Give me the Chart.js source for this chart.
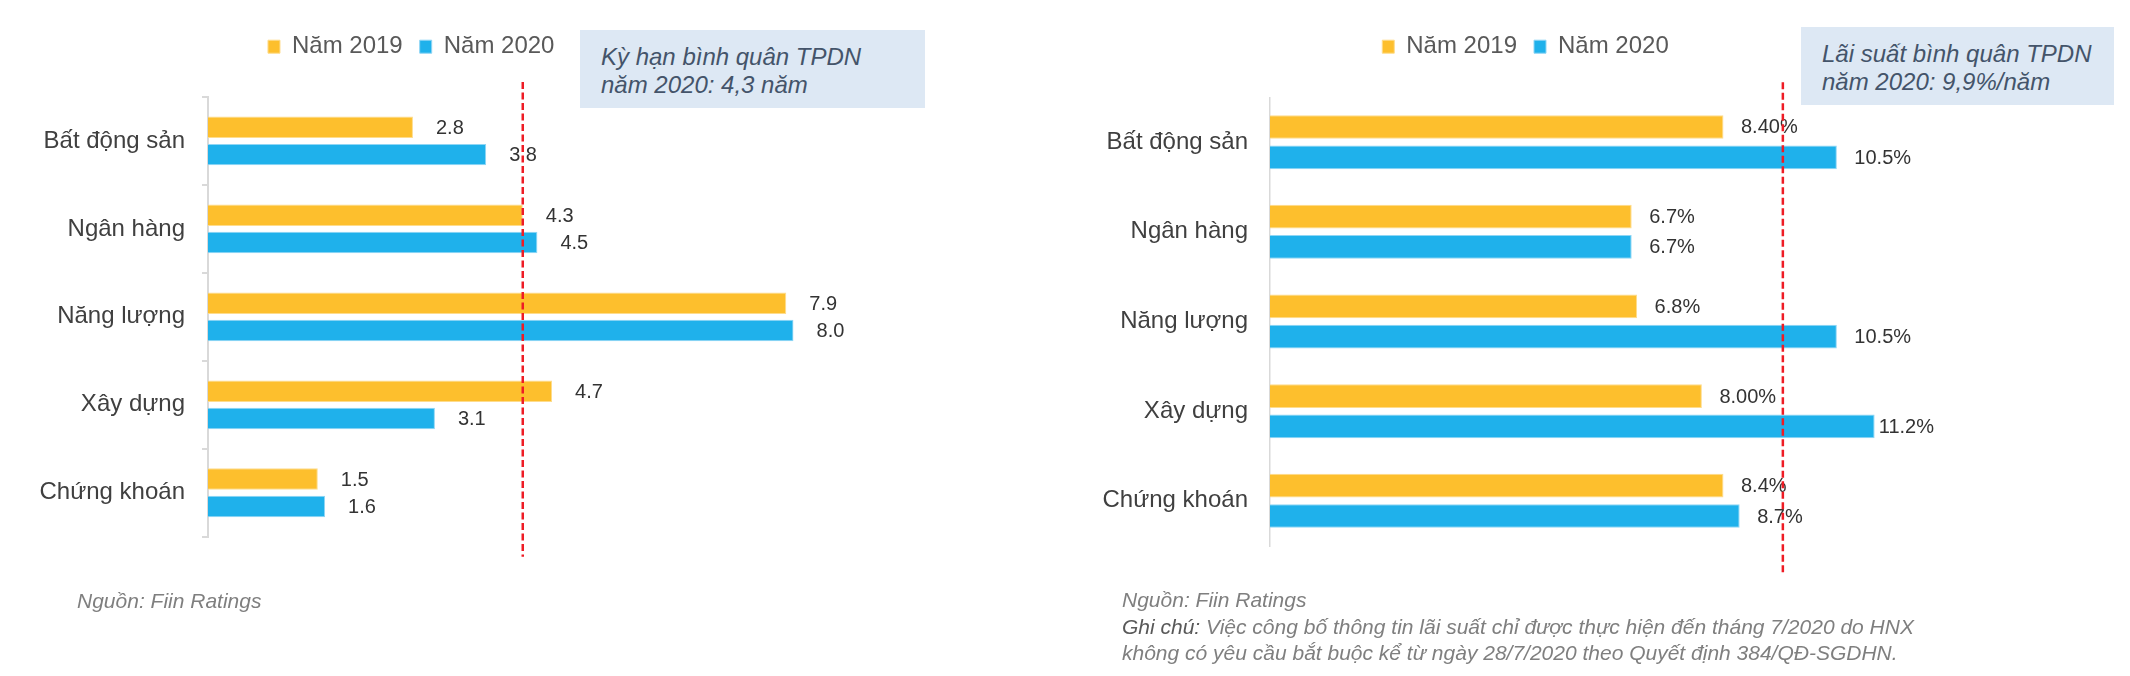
<!DOCTYPE html>
<html>
<head>
<meta charset="utf-8">
<script src="https://cdn.jsdelivr.net/npm/chart.js@4.4.1/dist/chart.umd.min.js"></script>
<style>
  body { margin: 0; width: 2130px; height: 676px; position: relative; overflow: hidden; background: #fff;
         font-family: "Liberation Sans", Arial, sans-serif; }
  canvas { position: absolute; top: 0; }
  .box { position: absolute; background: #dde8f4; color: #44546a; font-style: italic; font-size: 24px;
         line-height: 28px; box-sizing: border-box; white-space: nowrap; }
  .note { position: absolute; color: #7f7f7f; font-style: italic; font-size: 21px; line-height: 26.5px; white-space: nowrap; }
  .note b { font-weight: normal; color: #595959; }
</style>
</head>
<body>
<canvas id="kyhan" width="870" height="676" style="left:0px"></canvas>
<canvas id="laisuat" width="1040" height="676" style="left:1090px"></canvas>

<div class="box" style="left:580px;top:30px;width:345px;height:78px;padding:13px 0 0 21px">Kỳ hạn bình quân TPDN<br>năm 2020: 4,3 năm</div>
<div class="box" style="left:1801px;top:27px;width:313px;height:78px;padding:13px 0 0 21px">Lãi suất bình quân TPDN<br>năm 2020: 9,9%/năm</div>

<div class="note" style="left:77px;top:588px">Nguồn: Fiin Ratings</div>
<div class="note" style="left:1122px;top:587px">Nguồn: Fiin Ratings<br><b>Ghi chú:</b> Việc công bố thông tin lãi suất chỉ được thực hiện đến tháng 7/2020 do HNX<br>không có yêu cầu bắt buộc kể từ ngày 28/7/2020 theo Quyết định 384/QĐ-SGDHN.</div>

<script>
// data
const categories = ['Bất động sản', 'Ngân hàng', 'Năng lượng', 'Xây dựng', 'Chứng khoán'];
const seriesNames = ['Năm 2019', 'Năm 2020'];

const kyHan2019 = [2.8, 4.3, 7.9, 4.7, 1.5];
const kyHan2020 = [3.8, 4.5, 8.0, 3.1, 1.6];
const kyHanLine = 4.3;

const laiSuat2019 = [8.4, 6.7, 6.8, 8.0, 8.4];
const laiSuat2020 = [10.5, 6.7, 10.5, 11.2, 8.7];
const laiSuat2019Text = ['8.40%', '6.7%', '6.8%', '8.00%', '8.4%'];
const laiSuat2020Text = ['10.5%', '6.7%', '10.5%', '11.2%', '8.7%'];
const laiSuatLine = 9.5;

Chart.defaults.font.family = '"Liberation Sans", Arial, sans-serif';

// value labels at the end of each bar
const barLabels = {
  id: 'barLabels',
  afterDatasetsDraw(chart, args, opts) {
    const ctx = chart.ctx;
    ctx.save();
    ctx.font = '20px "Liberation Sans", Arial, sans-serif';
    ctx.fillStyle = '#333333';
    ctx.textBaseline = 'middle';
    ctx.textAlign = 'left';
    const limit = opts.limit ? chart.scales.x.getPixelForValue(opts.limit) : Infinity;
    chart.data.datasets.forEach((ds, i) => {
      chart.getDatasetMeta(i).data.forEach((bar, j) => {
        const txt = opts.texts ? opts.texts[i][j] : ds.data[j].toFixed(1);
        let x = bar.x + opts.offset;
        const w = ctx.measureText(txt).width;
        // label pushed back when it runs past the plot edge, like excel does
        if (x + w > limit) x = limit - w;
        ctx.fillText(txt, x, bar.y + 1);
      });
    });
    ctx.restore();
  }
};

// red dashed average line
const avgLine = {
  id: 'avgLine',
  afterDatasetsDraw(chart, args, opts) {
    const ctx = chart.ctx;
    const x = chart.scales.x.getPixelForValue(opts.value);
    ctx.save();
    ctx.strokeStyle = '#ee1c25';
    ctx.lineWidth = 2.5;
    ctx.setLineDash([7, 3.5]);
    ctx.beginPath();
    ctx.moveTo(x, chart.chartArea.top - opts.above);
    ctx.lineTo(x, chart.chartArea.bottom + opts.below);
    ctx.stroke();
    ctx.restore();
  }
};

function makeChart(id, d2019, d2020, cfg) {
  return new Chart(document.getElementById(id), {
    type: 'bar',
    data: {
      labels: categories,
      datasets: [
        { label: seriesNames[0], data: d2019, backgroundColor: '#fdbf2d', borderColor: '#fedc8c' },
        { label: seriesNames[1], data: d2020, backgroundColor: '#1fb1eb', borderColor: '#8fd6f5' }
      ]
    },
    options: {
      indexAxis: 'y',
      responsive: false,
      animation: false,
      layout: { padding: cfg.padding },
      datasets: { bar: { categoryPercentage: cfg.cp, barPercentage: cfg.bp, borderWidth: 1, borderSkipped: 'start' } },
      scales: {
        x: {
          position: 'top', min: 0, max: cfg.max,
          ticks: { display: false }, grid: { display: false }, border: { display: false },
          afterFit(s) { s.height = cfg.gapTop; }
        },
        y: {
          grid: { display: cfg.ticks, drawOnChartArea: false, drawTicks: true, tickLength: 6,
                  color: '#d9d9d9', lineWidth: 2, offset: true },
          border: { display: true, color: '#d9d9d9', width: cfg.axisWidth },
          ticks: { padding: cfg.labelPad, color: '#404040', font: { size: 24 } },
          afterFit(s) { s.width = cfg.yWidth; }
        }
      },
      plugins: {
        legend: {
          labels: { boxWidth: 12, boxHeight: 13, padding: 17, color: '#595959', font: { size: 24 } }
        },
        tooltip: { enabled: false },
        barLabels: { offset: cfg.labelOffset, texts: cfg.texts, limit: cfg.limit },
        avgLine: { value: cfg.line, above: 15, below: cfg.lineBelow }
      }
    },
    plugins: [barLabels, avgLine]
  });
}

makeChart('kyhan', kyHan2019, kyHan2020, {
  padding: { left: 28.8, right: 76.4, top: 17.7, bottom: 139.3 },
  gapTop: 28.3, yWidth: 179.2, max: 8, cp: 0.621, bp: 0.787,
  ticks: true, axisWidth: 2, labelPad: 17,
  labelOffset: 23, texts: null, limit: null,
  line: kyHanLine, lineBelow: 20
});

makeChart('laisuat', laiSuat2019, laiSuat2020, {
  padding: { left: 0, right: 169, top: 17.7, bottom: 130.3 },
  gapTop: 28.6, yWidth: 180, max: 12.8, cp: 0.676, bp: 0.782,
  ticks: false, axisWidth: 1.5, labelPad: 16,
  labelOffset: 17.5, texts: [laiSuat2019Text, laiSuat2020Text], limit: 12.3,
  line: laiSuatLine, lineBelow: 29
});
</script>
</body>
</html>
